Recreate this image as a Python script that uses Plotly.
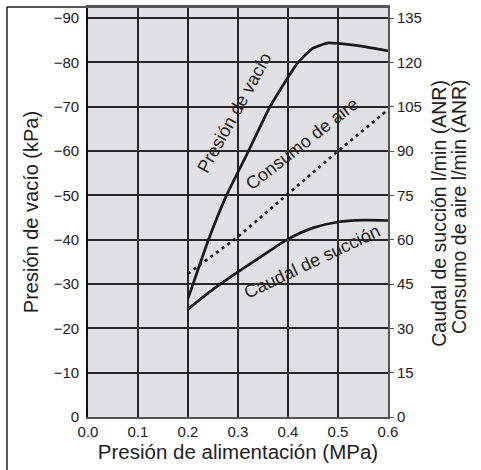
import plotly.graph_objects as go

# Data
vac_x = [0.2, 0.241, 0.277, 0.321, 0.364, 0.42, 0.45, 0.48, 0.5, 0.55, 0.6]
vac_y = [-26.7, -40, -50, -60, -70, -80, -83.2, -84.4, -84.3, -83.6, -82.6]

suc_x = [0.2, 0.25, 0.3, 0.35, 0.4, 0.45, 0.5, 0.55, 0.6]
suc_y = [36.5, 43.2, 49.1, 54.7, 60.2, 64, 66, 66.6, 66.5]

air_x = [0.2, 0.3, 0.4, 0.5, 0.6]
air_y = [48.5, 61, 75.5, 90, 104]

x_ticks = [0.0, 0.1, 0.2, 0.3, 0.4, 0.5, 0.6]
left_ticks = [0, -10, -20, -30, -40, -50, -60, -70, -80, -90]
right_ticks = [0, 15, 30, 45, 60, 75, 90, 105, 120, 135]

FONT = "Liberation Sans, Arial, sans-serif"
INK = "#1a1a1a"
TXT = "#222222"
GRID = "#262626"

fig = go.Figure()
fig.add_trace(go.Scatter(x=vac_x, y=vac_y, mode="lines", line=dict(color=INK, width=2.7, shape="spline", smoothing=0.45),
                         showlegend=False, hoverinfo="skip"))
fig.add_trace(go.Scatter(x=suc_x, y=suc_y, mode="lines", yaxis="y2", line=dict(color=INK, width=2.7, shape="spline", smoothing=0.8),
                         showlegend=False, hoverinfo="skip"))
fig.add_trace(go.Scatter(x=air_x, y=air_y, mode="lines", yaxis="y2", line=dict(color=INK, width=2.7, dash="3px,4px"),
                         showlegend=False, hoverinfo="skip"))

fig.update_layout(
    width=481, height=470,
    margin=dict(l=88, r=93, t=5, b=53),
    paper_bgcolor="white",
    plot_bgcolor="#e1e1e3",
    font=dict(family=FONT, color=TXT, size=15),
    xaxis=dict(range=[0, 0.6], tickvals=x_ticks, tickformat=".1f", showgrid=True, gridcolor=GRID, gridwidth=1.8,
               zeroline=False, showline=True, linecolor="#555555", linewidth=1.8, mirror=True, ticks="",
               title=dict(text="Presión de alimentación (MPa)", font=dict(size=20.5), standoff=6),
               tickfont=dict(size=15)),
    yaxis=dict(range=[0, -92.5], tickvals=left_ticks, showgrid=True, gridcolor=GRID, gridwidth=1.8,
               zeroline=False, showline=True, linecolor="#111111", linewidth=1.8, ticks="", ticklabelstandoff=4,
               title=dict(text="Presión de vacío (kPa)", font=dict(size=20), standoff=10),
               tickfont=dict(size=15)),
    yaxis2=dict(range=[0, 138.75], tickvals=right_ticks, overlaying="y", side="right", showgrid=False, zeroline=False,
                showline=True, linecolor="#555555", linewidth=1.8, ticks="outside", ticklen=4, tickcolor="#555555",
                tickfont=dict(size=15)),
)

# in-plot curve labels
fig.add_annotation(x=0.293, y=-68.5, text="Presión de vacío", textangle=-61, showarrow=False,
                   font=dict(size=18, color=TXT))
fig.add_annotation(x=0.428, y=-61.5, text="Consumo de aire", textangle=-38, showarrow=False,
                   font=dict(size=18, color=TXT))
fig.add_annotation(x=0.447, y=-35, text="Caudal de succión", textangle=-25.5, showarrow=False,
                   font=dict(size=18, color=TXT))

# right-side axis titles (two rotated lines)
fig.add_annotation(xref="paper", yref="paper", x=1.215, y=0.497, text="Caudal de succión l/min (ANR)", textangle=-90,
                   showarrow=False, font=dict(size=19.5, color=TXT))
fig.add_annotation(xref="paper", yref="paper", x=1.28, y=0.512, text="Consumo de aire l/min (ANR)", textangle=-90,
                   showarrow=False, font=dict(size=19.5, color=TXT))

# outer frame lines (top and left)
fig.add_shape(type="line", xref="paper", yref="paper", x0=-0.27, x1=1.0, y0=1.0, y1=1.0,
              line=dict(color="#555555", width=1.8))
fig.add_shape(type="line", xref="paper", yref="paper", x0=-0.27, x1=-0.27, y0=1.0, y1=-0.14,
              line=dict(color="#222222", width=1.5))

fig.write_html("out.html")
